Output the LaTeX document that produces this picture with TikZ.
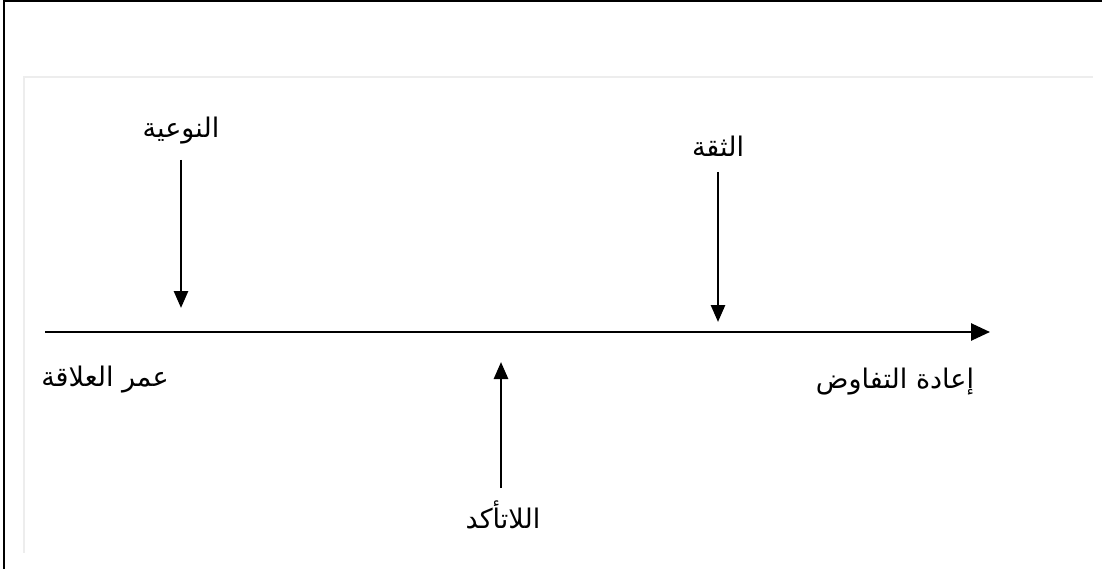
\documentclass[tikz,border=0pt]{standalone}
\usepackage{fontspec}
\usetikzlibrary{arrows.meta}
\TeXXeTstate=1
\newfontfamily\arabicfont[Script=Arabic]{DejaVu Sans}
\begin{document}
\begin{tikzpicture}[x=1pt,y=-1pt,
  lbl/.style={font=\arabicfont\fontsize{27}{30}\selectfont, inner sep=0pt},
  conn/.style={line width=2.7pt, -{Triangle[length=17pt,width=14pt]}},
  axis/.style={line width=2.7pt, -{Triangle[length=19pt,width=17pt]}}]
\useasboundingbox (0,0) rectangle (1102,569);
% frame (top and left edges)
\draw[line width=1.8pt] (4,569) -- (4,1) -- (1102,1);
% faint inner panel edges
\draw[line width=2pt, draw=black!7] (24,553) -- (24,77) -- (1093,77);
% axis
\coordinate (axS) at (45,332);
\coordinate (axE) at (990,332);
\draw[axis] (axS) -- (axE);
% labels
\node[lbl] (q) at (181,131) {\beginR النوعية\endR};
\node[lbl] (t) at (718,146) {\beginR الثقة\endR};
\node[lbl] (u) at (503,515) {\beginR اللاتأكد\endR};
\node[lbl] (age) at (105,380) {\beginR عمر العلاقة\endR};
\node[lbl] (ren) at (895,382) {\beginR إعادة التفاوض\endR};
% arrow ends
\coordinate (q0) at (181,160);
\coordinate (q1) at (181,308);
\coordinate (t0) at (718,172);
\coordinate (t1) at (718,322);
\coordinate (u0) at (501,488);
\coordinate (u1) at (501,362);
\draw[conn] (q0) -- (q1);
\draw[conn] (t0) -- (t1);
\draw[conn] (u0) -- (u1);
\end{tikzpicture}
\end{document}
